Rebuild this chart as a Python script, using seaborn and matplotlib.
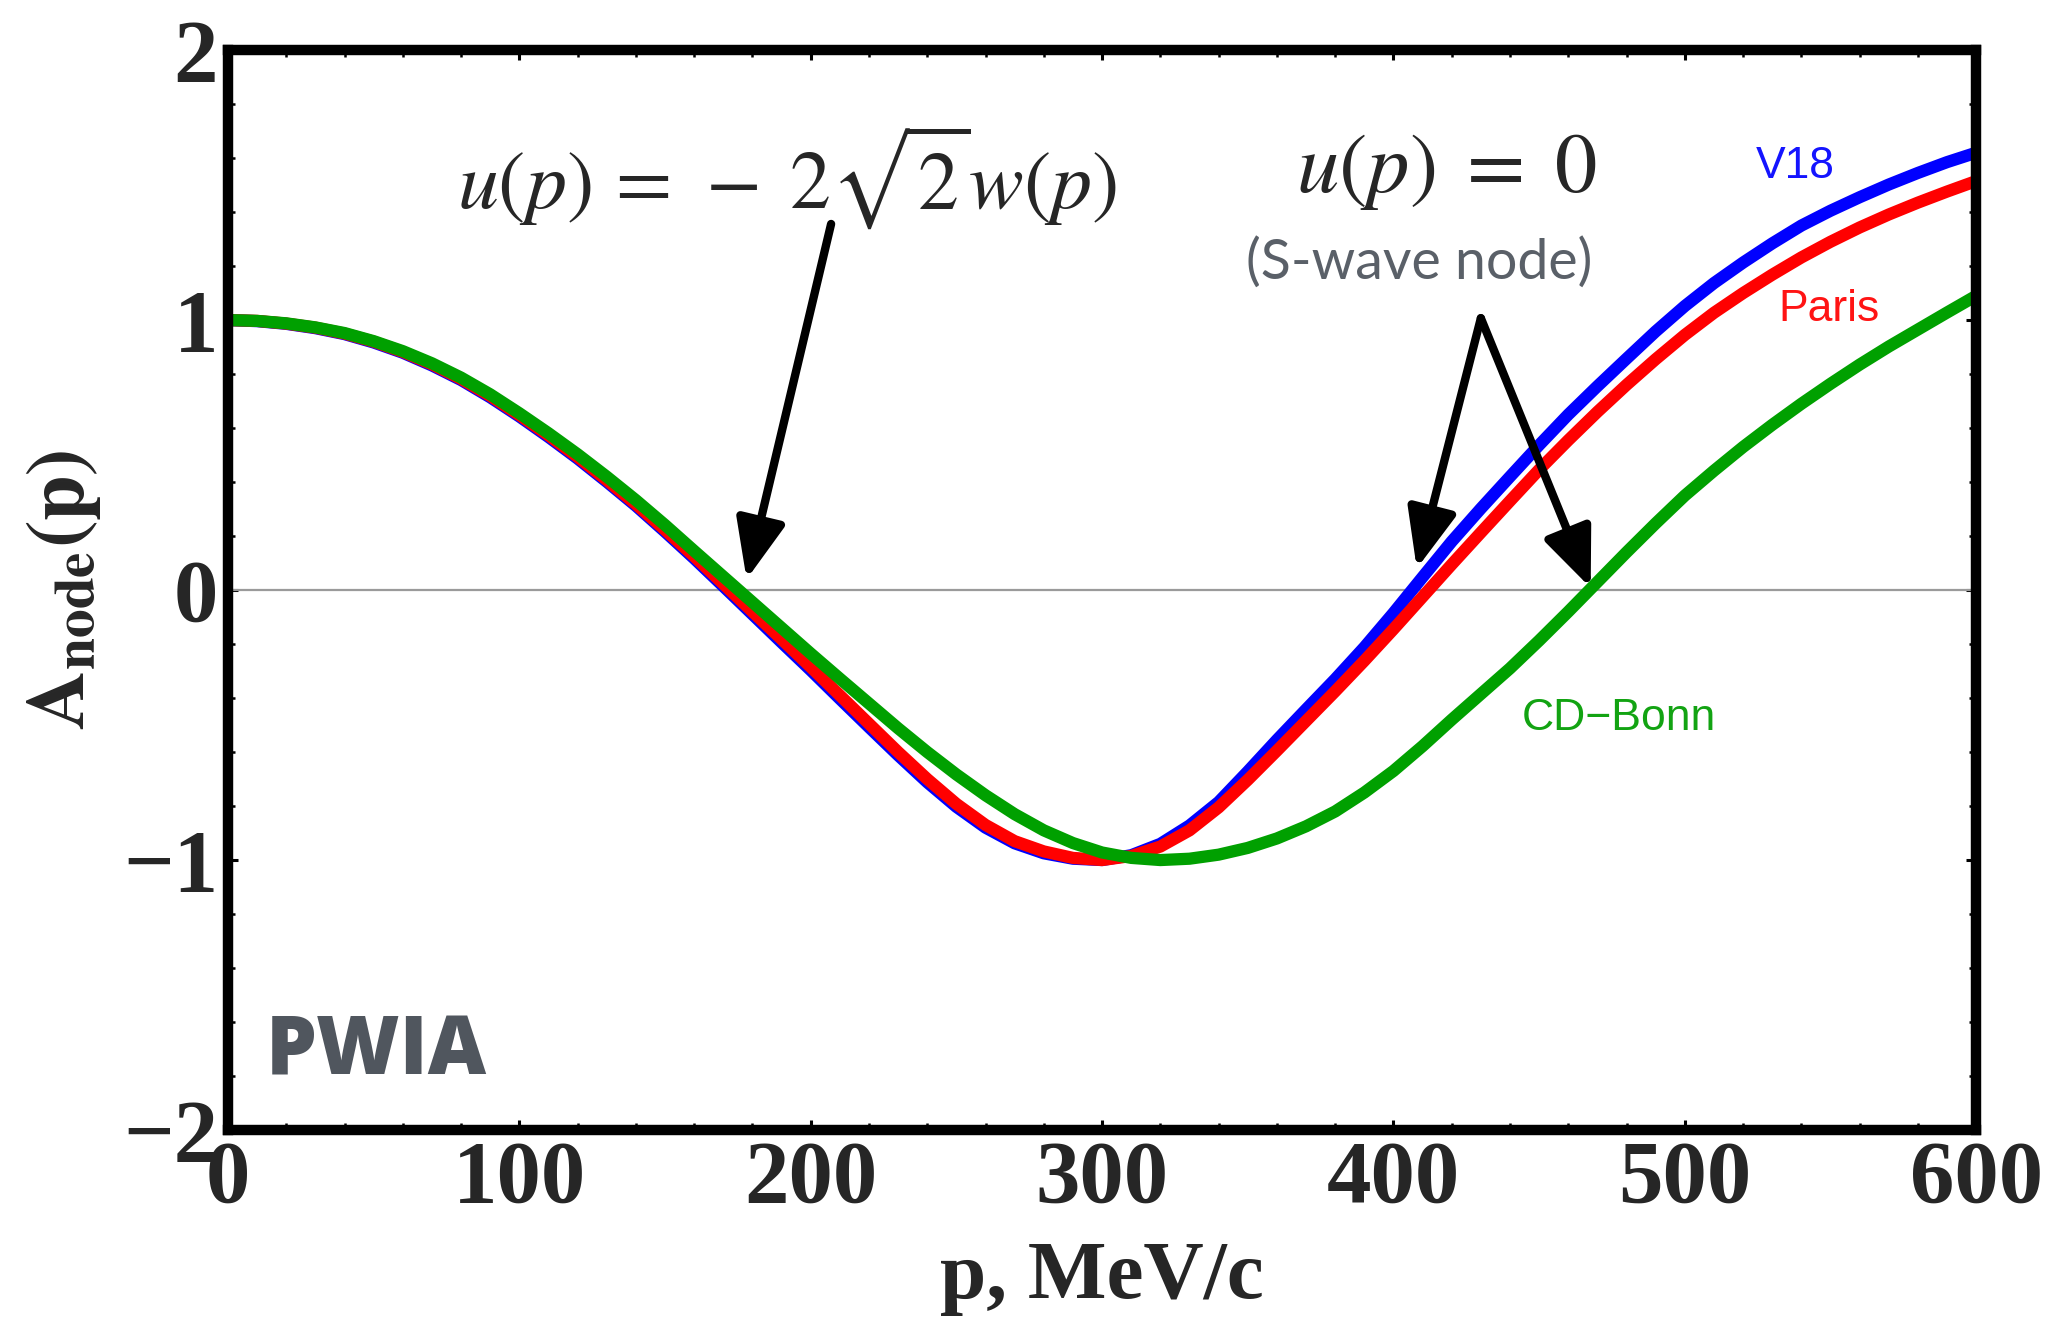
import numpy as np
import pandas as pd
import matplotlib
matplotlib.use("Agg")
import matplotlib.pyplot as plt
import seaborn as sns
from matplotlib.ticker import MultipleLocator

# ---------------- data ----------------
p_mev = [0, 10, 20, 30, 40, 50, 60, 70, 80, 90, 100, 110, 120, 130, 140, 150,
         160, 170, 180, 190, 200, 210, 220, 230, 240, 250, 260, 270, 280, 290, 300,
         310, 320, 330, 340, 350, 360, 370, 380, 390, 400, 410, 420, 430, 440, 450,
         460, 470, 480, 490, 500, 510, 520, 530, 540, 550, 560, 570, 580, 590, 600]

a_v18 = [1.000, 0.996, 0.986, 0.970, 0.948, 0.917, 0.879, 0.832, 0.778, 0.714, 0.643,
         0.567, 0.487, 0.401, 0.312, 0.216, 0.117, 0.014, -0.090, -0.194, -0.297,
         -0.403, -0.508, -0.612, -0.712, -0.803, -0.880, -0.938, -0.975, -0.995, -1.000,
         -0.982, -0.940, -0.872, -0.785, -0.672, -0.555, -0.442, -0.330, -0.212, -0.085,
         0.048, 0.180, 0.302, 0.420, 0.537, 0.650, 0.755, 0.857, 0.958, 1.052,
         1.137, 1.213, 1.284, 1.350, 1.405, 1.455, 1.502, 1.545, 1.585, 1.620]

a_paris = [1.000, 0.997, 0.987, 0.972, 0.950, 0.920, 0.882, 0.836, 0.782, 0.719, 0.648,
           0.573, 0.493, 0.407, 0.318, 0.223, 0.125, 0.023, -0.080, -0.182, -0.285,
           -0.390, -0.495, -0.600, -0.700, -0.792, -0.870, -0.930, -0.968, -0.992, -1.000,
           -0.985, -0.950, -0.890, -0.805, -0.703, -0.595, -0.485, -0.375, -0.262, -0.145,
           -0.025, 0.095, 0.213, 0.330, 0.446, 0.555, 0.660, 0.760, 0.855, 0.945,
           1.027, 1.100, 1.168, 1.232, 1.290, 1.343, 1.391, 1.435, 1.476, 1.515]

a_cdbonn = [1.000, 0.997, 0.988, 0.973, 0.952, 0.922, 0.885, 0.840, 0.787, 0.725, 0.655,
            0.581, 0.503, 0.420, 0.333, 0.241, 0.145, 0.050, -0.045, -0.140, -0.235,
            -0.328, -0.420, -0.512, -0.600, -0.683, -0.760, -0.830, -0.890, -0.937, -0.972,
            -0.992, -1.000, -0.995, -0.980, -0.955, -0.920, -0.875, -0.820, -0.750, -0.670,
            -0.578, -0.480, -0.385, -0.290, -0.187, -0.080, 0.030, 0.140, 0.247, 0.350,
            0.442, 0.530, 0.612, 0.690, 0.764, 0.835, 0.902, 0.965, 1.028, 1.090]

models = ["V18", "Paris", "CD\u2212Bonn"]
line_colors = ["#0000ff", "#ff0000", "#00a000"]
label_colors = ["#1414ff", "#ff1414", "#12a312"]

x_ticks = [0, 100, 200, 300, 400, 500, 600]
x_tick_labels = ["0", "100", "200", "300", "400", "500", "600"]
y_ticks = [-2, -1, 0, 1, 2]
y_tick_labels = ["\u22122", "\u22121", "0", "1", "2"]

# ---------------- style ----------------
sns.set_style("ticks")
plt.rcParams["font.family"] = ["Liberation Serif", "DejaVu Serif"]
plt.rcParams["mathtext.fontset"] = "stix"

df = pd.DataFrame({
    "p": p_mev * 3,
    "A": a_v18 + a_paris + a_cdbonn,
    "model": [m for m in models for _ in p_mev],
})

fig = plt.figure(figsize=(20.5, 13.18), dpi=100)
ax = fig.add_axes([0.1112, 0.1426, 0.8528, 0.8194])

ax.axhline(0, color="#9a9a9a", lw=1.6, zorder=1)
sns.lineplot(data=df, x="p", y="A", hue="model", hue_order=models,
             palette=dict(zip(models, line_colors)), linewidth=8.8,
             legend=False, errorbar=None, ax=ax, zorder=3,
             solid_joinstyle="round", solid_capstyle="butt")

ax.set_xlim(0, 600)
ax.set_ylim(-2, 2)
ax.set_xticks(x_ticks)
ax.set_xticklabels(x_tick_labels, fontweight="bold")
ax.set_yticks(y_ticks)
ax.set_yticklabels(y_tick_labels, fontweight="bold")
ax.xaxis.set_minor_locator(MultipleLocator(20))
ax.yaxis.set_minor_locator(MultipleLocator(0.2))
ax.tick_params(which="both", direction="in", top=True, right=True, color="black")
ax.tick_params(which="major", length=7, width=2.2, pad=7, labelsize=64)
ax.tick_params(which="minor", length=5.3, width=1.8)

for s in ax.spines.values():
    s.set_linewidth(7.5)
    s.set_color("black")
    s.set_zorder(5)

ax.set_xlabel("p, MeV/c", fontsize=60, fontweight="bold")
ax.xaxis.set_label_coords(0.5, -0.137)
ax.xaxis.label.set_verticalalignment("center")
ax.set_ylabel(r"$\mathbf{A}_{\mathbf{node}}\mathbf{(p)}$", fontsize=59)
ax.yaxis.set_label_coords(-0.094, 0.5)
ax.yaxis.label.set_verticalalignment("center")

# ---------------- annotations ----------------
arrow_kw = dict(arrowstyle="-|>,head_length=36,head_width=15", mutation_scale=1,
                lw=6, color="black", shrinkA=0, shrinkB=0)
ax.annotate("", xy=(178, 0.04), xytext=(207, 1.356), arrowprops=arrow_kw, zorder=6)
ax.annotate("", xy=(408, 0.08), xytext=(430, 1.007), arrowprops=arrow_kw, zorder=6)
ax.annotate("", xy=(467.7, 0.008), xytext=(430, 1.007), arrowprops=arrow_kw, zorder=6)

ax.text(192, 1.53, r"$u(p)\,=\,-\;2\sqrt{2}w(p)$", fontsize=59, ha="center", va="center")
ax.text(418, 1.55, r"$u(p)\; =\; 0$", fontsize=61, ha="center", va="center")
ax.text(409, 1.211, "(S-wave node)", family=["Lato", "DejaVu Sans"], fontweight="normal",
        color="#5a6068", fontsize=40, ha="center", va="center")

label_pos = [(537.8, 1.567), (549.5, 1.04), (477.3, -0.474)]
for name, col, (lx, ly) in zip(models, label_colors, label_pos):
    ax.text(lx, ly, name, color=col, family=["Liberation Sans", "DejaVu Sans"],
            fontsize=32, ha="center", va="center")

ax.text(13.0, -1.715, "PWIA", family=["Open Sans", "DejaVu Sans"], fontweight="heavy",
        color="#50565e", fontsize=58, ha="left", va="center")

fig.savefig("out.png", dpi=100)
